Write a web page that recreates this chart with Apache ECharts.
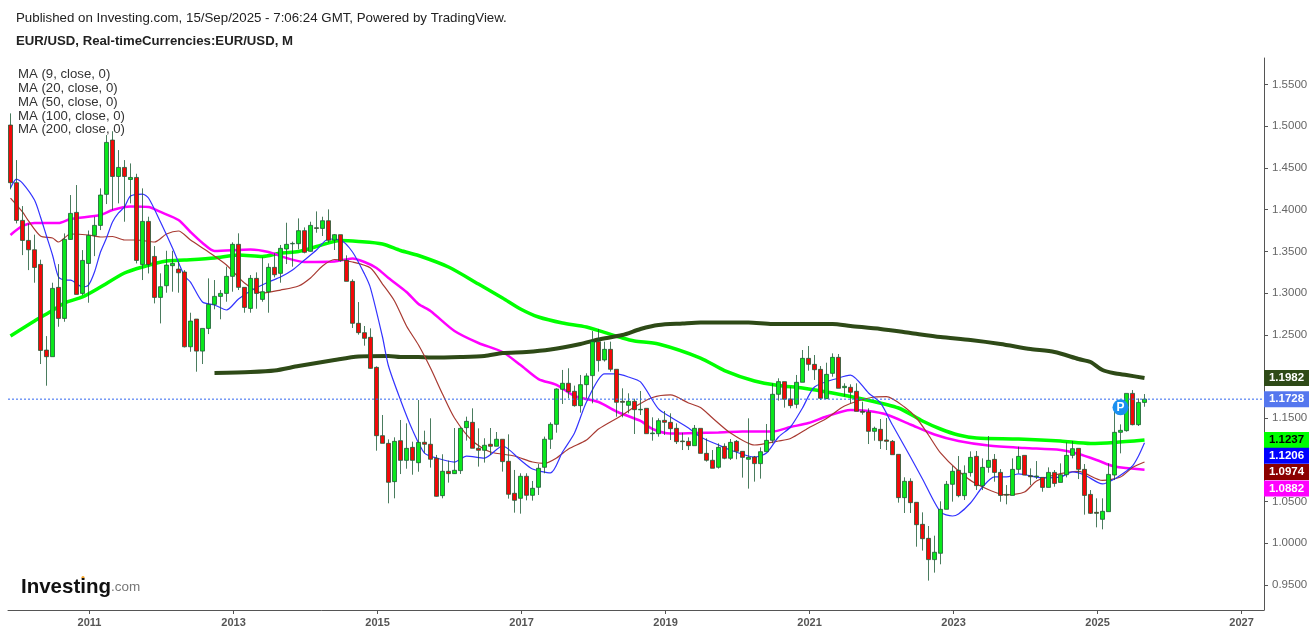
<!DOCTYPE html>
<html>
<head>
<meta charset="utf-8">
<title>EUR/USD</title>
<style>
  html, body { margin: 0; padding: 0; background: #fff; }
  #chart { width: 1316px; height: 634px; }
</style>
<script src="https://cdn.jsdelivr.net/npm/echarts@6/dist/echarts.min.js"></script>
</head>
<body>
<div id="chart"></div>
<script>
// monthly candles, index 0 = Dec 2009, index 189 = Sep 2025
var opens = [1.5014,1.4323,1.3871,1.3631,1.3519,1.3343,1.2316,1.2237,1.3068,1.2696,
  1.3643,1.3967,1.2996,1.3355,1.3691,1.3811,1.4183,1.4834,1.4398,1.4506,
  1.4362,1.4386,1.3343,1.3859,1.3439,1.2948,1.3088,1.3328,1.3287,1.3252,
  1.2356,1.2688,1.2304,1.2576,1.2864,1.2960,1.2996,1.3200,1.3584,1.3068,
  1.2816,1.3176,1.2924,1.3016,1.3308,1.3236,1.3528,1.3590,1.3592,1.3748,
  1.3500,1.3783,1.3775,1.3867,1.3636,1.3700,1.3392,1.3140,1.2637,1.2525,
  1.2469,1.2109,1.1290,1.1198,1.0739,1.1230,1.0994,1.1150,1.0966,1.1211,
  1.1187,1.1019,1.0571,1.0863,1.0835,1.0871,1.1386,1.1450,1.1139,1.1115,
  1.1187,1.1163,1.1247,1.0983,1.0599,1.0539,1.0803,1.0575,1.0671,1.0911,
  1.1247,1.1426,1.1846,1.1918,1.1822,1.1650,1.1902,1.2010,1.2417,1.2198,
  1.2325,1.2086,1.1702,1.1654,1.1702,1.1600,1.1618,1.1314,1.1314,1.1474,
  1.1450,1.1378,1.1226,1.1222,1.1170,1.1378,1.1078,1.0995,1.0911,1.1162,
  1.1019,1.1222,1.1102,1.1007,1.1034,1.0955,1.1098,1.1234,1.1786,1.1938,
  1.1730,1.1666,1.1930,1.2217,1.2145,1.2085,1.1734,1.2037,1.2229,1.1866,
  1.1870,1.1822,1.1582,1.1574,1.1342,1.1366,1.1238,1.1222,1.1066,1.0547,
  1.0743,1.0491,1.0227,1.0059,0.9804,0.9880,1.0407,1.0707,1.0875,1.0571,
  1.0847,1.1042,1.0690,1.0910,1.1006,1.0850,1.0586,1.0574,1.0886,1.1054,
  1.0810,1.0798,1.0790,1.0670,1.0850,1.0730,1.0822,1.1054,1.1138,1.0886,
  1.0586,1.0371,1.0287,1.0379,1.0818,1.1330,1.1350,1.1797,1.1422,1.1689];
var closes = [1.4323,1.3871,1.3631,1.3519,1.3307,1.2312,1.2237,1.3056,1.2696,1.3643,
  1.3955,1.2984,1.3391,1.3691,1.3811,1.4175,1.4806,1.4398,1.4506,1.4398,
  1.4386,1.3391,1.3859,1.3343,1.2948,1.3076,1.3335,1.3355,1.3243,1.2356,
  1.2664,1.2304,1.2576,1.2864,1.2960,1.2996,1.3200,1.3584,1.3068,1.2828,
  1.3176,1.2996,1.3016,1.3308,1.3220,1.3536,1.3584,1.3595,1.3748,1.3488,
  1.3811,1.3775,1.3867,1.3632,1.3700,1.3392,1.3140,1.2637,1.2525,1.2457,
  1.2097,1.1290,1.1198,1.0731,1.1222,1.0994,1.1138,1.0994,1.1210,1.1187,
  1.1007,1.0563,1.0863,1.0835,1.0875,1.1378,1.1462,1.1139,1.1115,1.1175,
  1.1163,1.1247,1.0979,1.0587,1.0515,1.0803,1.0575,1.0659,1.0899,1.1247,
  1.1426,1.1850,1.1918,1.1818,1.1650,1.1902,1.2006,1.2417,1.2190,1.2325,
  1.2086,1.1690,1.1690,1.1702,1.1602,1.1606,1.1314,1.1322,1.1470,1.1450,
  1.1374,1.1218,1.1218,1.1170,1.1378,1.1078,1.0995,1.0899,1.1150,1.1019,
  1.1210,1.1102,1.1030,1.1030,1.0955,1.1098,1.1234,1.1786,1.1938,1.1726,
  1.1650,1.1930,1.2217,1.2145,1.2081,1.1738,1.2025,1.2229,1.1858,1.1882,
  1.1810,1.1582,1.1570,1.1342,1.1378,1.1230,1.1222,1.1062,1.0547,1.0743,
  1.0487,1.0223,1.0055,0.9804,0.9892,1.0407,1.0707,1.0863,1.0571,1.0839,
  1.1030,1.0691,1.0910,1.0994,1.0850,1.0574,1.0578,1.0886,1.1042,1.0818,
  1.0798,1.0806,1.0670,1.0850,1.0718,1.0822,1.1054,1.1134,1.0886,1.0574,
  1.0359,1.0359,1.0383,1.0826,1.1330,1.1354,1.1797,1.1422,1.1689,1.1728];
var lows = [1.4243,1.3835,1.3455,1.3275,1.3124,1.2149,1.1889,1.2237,1.2596,1.2656,
  1.3640,1.2984,1.2976,1.2884,1.3443,1.3755,1.4067,1.3995,1.4075,1.3855,
  1.4075,1.3355,1.3156,1.3235,1.2876,1.2636,1.3004,1.3016,1.3004,1.2348,
  1.2296,1.2057,1.2149,1.2508,1.2805,1.2685,1.2896,1.3016,1.3036,1.2764,
  1.2764,1.2812,1.2896,1.2764,1.3188,1.3124,1.3348,1.3316,1.3524,1.3476,
  1.3496,1.3723,1.3684,1.3604,1.3516,1.3376,1.3140,1.2581,1.2501,1.2369,
  1.2093,1.1110,1.1198,1.0479,1.0539,1.0830,1.0894,1.0822,1.0858,1.1079,
  1.0907,1.0559,1.0539,1.0727,1.0839,1.0831,1.1231,1.1139,1.0919,1.0967,
  1.1059,1.1163,1.0859,1.0535,1.0367,1.0355,1.0515,1.0511,1.0579,1.0839,
  1.1131,1.1326,1.1670,1.1738,1.1638,1.1566,1.1738,1.1678,1.2058,1.2178,
  1.2058,1.1518,1.1510,1.1558,1.1310,1.1538,1.1314,1.1230,1.1278,1.1298,
  1.1238,1.1190,1.1118,1.1118,1.1170,1.1078,1.0979,1.0899,1.0895,1.1007,
  1.0999,1.1007,1.0787,1.0655,1.0739,1.0775,1.1098,1.1198,1.1710,1.1626,
  1.1618,1.1618,1.1930,1.2069,1.1958,1.1718,1.1734,1.1997,1.1858,1.1758,
  1.1678,1.1582,1.1542,1.1190,1.1230,1.1130,1.1118,1.1062,1.0487,1.0363,
  1.0363,0.9959,0.9912,0.9552,0.9648,0.9748,1.0407,1.0499,1.0551,1.0519,
  1.0799,1.0639,1.0638,1.0846,1.0738,1.0498,1.0467,1.0574,1.0838,1.0818,
  1.0698,1.0770,1.0618,1.0670,1.0678,1.0730,1.0790,1.1018,1.0770,1.0343,
  1.0351,1.0191,1.0167,1.0379,1.0758,1.1078,1.1338,1.1414,1.1406,1.1637];
var highs = [1.5154,1.4594,1.4043,1.3835,1.3700,1.3400,1.2484,1.3124,1.3347,1.3715,
  1.4175,1.4295,1.3515,1.3750,1.3915,1.4255,1.4894,1.4940,1.4714,1.4594,
  1.4554,1.4430,1.4255,1.3915,1.3563,1.3236,1.3507,1.3507,1.3375,1.3275,
  1.2764,1.2688,1.2576,1.3176,1.3156,1.3036,1.3316,1.3608,1.3716,1.3068,
  1.3216,1.3248,1.3428,1.3356,1.3476,1.3576,1.3843,1.3616,1.3895,1.3787,
  1.3855,1.3979,1.3915,1.4003,1.3708,1.3700,1.3452,1.3164,1.2892,1.2605,
  1.2577,1.2121,1.1538,1.1246,1.1270,1.1478,1.1438,1.1218,1.1718,1.1350,
  1.1498,1.1059,1.1067,1.0991,1.1382,1.1390,1.1518,1.1618,1.1378,1.1259,
  1.1382,1.1334,1.1247,1.1306,1.0879,1.0839,1.0839,1.0747,1.0951,1.1279,
  1.1450,1.1858,1.2078,1.2098,1.1890,1.2018,1.2038,1.2545,1.2569,1.2417,
  1.2417,1.2086,1.1858,1.1798,1.1733,1.1826,1.1618,1.1510,1.1498,1.1586,
  1.1558,1.1438,1.1326,1.1270,1.1418,1.1378,1.1258,1.1118,1.1198,1.1198,
  1.1250,1.1238,1.1102,1.1498,1.1047,1.1150,1.1430,1.1918,1.1978,1.1938,
  1.1878,1.2018,1.2317,1.2365,1.2257,1.2125,1.2165,1.2277,1.2269,1.1918,
  1.1906,1.1918,1.1698,1.1618,1.1398,1.1490,1.1502,1.1238,1.1066,1.0791,
  1.0779,1.0491,1.0371,1.0207,1.0091,1.0503,1.0747,1.0926,1.1046,1.0934,
  1.1102,1.1106,1.1018,1.1286,1.1070,1.0890,1.0698,1.1018,1.1158,1.1054,
  1.0898,1.0986,1.0790,1.0910,1.0878,1.0958,1.1210,1.1226,1.1138,1.0950,
  1.0638,1.0539,1.0539,1.0958,1.1597,1.1426,1.1797,1.1837,1.1737,1.1789];

// moving averages, month index + value
var ma9Months = [0,1,2,4,5,6,7,8,9,10,12,13,14,15,16,17,18,19,20,22,23,25,27,29,30,32,34,36,38,40,43,45,47,49,51,53,55,57,59,60,62,63,65,67,69,71,74,76,79,82,85,87,90,92,94,96,99,101,103,105,108,110,113,115,118,120,124,126,128,130,132,134,138,140,143,145,147,150,152,155,157,158,160,162,164,166,168,172,175,177,179,182,184,186,187,188,189];
var ma9 = [1.4259,1.4367,1.4319,1.4115,1.3912,1.3684,1.3456,1.3192,1.3156,1.3156,1.3072,1.3096,1.3252,1.3492,1.3660,1.3852,1.3960,1.4032,1.4163,1.4187,1.4139,1.3852,1.3540,1.3204,1.3132,1.2893,1.2857,1.2797,1.2929,1.3025,1.3132,1.3192,1.3276,1.3396,1.3516,1.3648,1.3636,1.3492,1.3228,1.3060,1.2473,1.2125,1.1718,1.1358,1.1082,1.1022,1.0974,1.1046,1.1022,1.1166,1.0998,1.0891,1.0843,1.1094,1.1322,1.1694,1.2030,1.2030,1.1993,1.1934,1.1610,1.1514,1.1382,1.1274,1.1178,1.1118,1.1034,1.1082,1.1274,1.1394,1.1622,1.1874,1.1982,1.2017,1.1802,1.1682,1.1418,1.1034,1.0771,1.0375,1.0327,1.0351,1.0483,1.0675,1.0795,1.0795,1.0831,1.0783,1.0795,1.0855,1.0819,1.0711,1.0771,1.0867,1.0927,1.1047,1.1206];
var ma20Months = [0,2,3,5,7,8,10,13,15,17,19,21,24,26,28,30,33,36,39,42,45,48,50,52,54,57,60,62,64,66,68,70,72,74,77,80,84,87,89,91,93,96,98,102,104,107,110,113,115,117,120,124,128,130,133,136,139,144,146,149,151,153,155,158,161,166,169,171,174,178,182,185,187,189];
var ma20 = [1.4139,1.3972,1.3864,1.3684,1.3660,1.3612,1.3708,1.3696,1.3672,1.3678,1.3636,1.3636,1.3612,1.3708,1.3744,1.3636,1.3492,1.3336,1.3120,1.3000,1.3036,1.3084,1.3180,1.3324,1.3402,1.3372,1.3300,1.3108,1.2905,1.2605,1.2377,1.2101,1.1790,1.1502,1.1226,1.1094,1.1046,1.0974,1.0957,1.1022,1.1130,1.1238,1.1370,1.1538,1.1634,1.1748,1.1778,1.1682,1.1628,1.1502,1.1322,1.1178,1.1226,1.1256,1.1382,1.1496,1.1646,1.1754,1.1757,1.1634,1.1502,1.1298,1.1083,1.0867,1.0711,1.0579,1.0615,1.0747,1.0819,1.0861,1.0753,1.0795,1.0909,1.0974];
var ma50Months = [0,2,4,8,10,15,17,20,23,25,28,30,32,34,40,43,46,49,54,57,59,61,63,66,68,70,74,78,82,85,88,91,94,98,101,105,107,110,114,118,122,127,130,133,136,140,143,146,150,154,158,163,169,175,178,181,184,189];
var ma50 = [1.3696,1.3804,1.3840,1.3840,1.3888,1.3936,1.3996,1.4037,1.4031,1.3972,1.3876,1.3732,1.3600,1.3504,1.3522,1.3492,1.3420,1.3372,1.3378,1.3414,1.3372,1.3300,1.3180,1.3012,1.2869,1.2785,1.2545,1.2401,1.2293,1.2137,1.1969,1.1898,1.1766,1.1694,1.1580,1.1466,1.1370,1.1316,1.1322,1.1328,1.1340,1.1340,1.1394,1.1442,1.1520,1.1598,1.1586,1.1544,1.1424,1.1304,1.1226,1.1172,1.1142,1.1118,1.1070,1.0999,1.0920,1.0882];
var ma100Months = [0,4,7,9,12,15,19,22,26,29,34,38,42,45,48,51,55,58,62,65,68,73,78,82,85,88,92,96,102,104,108,115,119,124,128,132,137,142,148,152,155,158,161,168,175,180,184,189];
var ma100 = [1.2485,1.2665,1.2791,1.2881,1.2953,1.3072,1.3240,1.3312,1.3384,1.3396,1.3420,1.3456,1.3438,1.3480,1.3498,1.3558,1.3630,1.3618,1.3588,1.3510,1.3450,1.3312,1.3108,1.2941,1.2809,1.2713,1.2641,1.2593,1.2461,1.2425,1.2389,1.2221,1.2071,1.1946,1.1892,1.1862,1.1802,1.1730,1.1622,1.1466,1.1370,1.1298,1.1262,1.1250,1.1226,1.1196,1.1208,1.1237];
var ma200Months = [34,40,44,48,54,58,63,65,68,70,75,79,82,86,90,95,98,102,105,108,112,115,118,123,127,132,137,140,145,150,155,160,165,170,174,178,180,182,184,186,189];
var ma200 = [1.2041,1.2053,1.2071,1.2125,1.2197,1.2239,1.2245,1.2233,1.2233,1.2227,1.2233,1.2245,1.2281,1.2293,1.2323,1.2389,1.2443,1.2497,1.2569,1.2617,1.2635,1.2647,1.2647,1.2647,1.2629,1.2629,1.2629,1.2605,1.2569,1.2521,1.2473,1.2437,1.2389,1.2329,1.2293,1.2209,1.2173,1.2077,1.2038,1.2017,1.1982];

var maNames = ["MA (9, close, 0)", "MA (20, close, 0)", "MA (50, close, 0)", "MA (100, close, 0)", "MA (200, close, 0)"];
var yTicks = [0.95, 1.0, 1.05, 1.15, 1.25, 1.3, 1.35, 1.4, 1.45, 1.5, 1.55];
var yearLabels = ["2011", "2013", "2015", "2017", "2019", "2021", "2023", "2025", "2027"];
var yearTicks = [13.17, 37.17, 61.17, 85.17, 109.17, 133.17, 157.17, 181.17, 205.17];
var lastPrice = 1.1728;

var xMin = -0.4167;
var xMax = 208.9167;

function zip(a, b) {
  return a.map(function (v, i) { return [v, b[i]]; });
}

// coloured price tag on the right hand scale
function tagItem(value, color, textColor, dy) {
  return {
    coord: [xMax, value],
    symbol: "rect",
    symbolSize: [45, 16],
    symbolOffset: [22.5, dy],
    itemStyle: { color: color },
    label: {
      show: true,
      position: "inside",
      formatter: value.toFixed(4),
      color: textColor,
      fontFamily: "Liberation Sans",
      fontSize: 11.5,
      fontWeight: "bold"
    }
  };
}

function maLine(name, months, values, color, width, tagColor, textColor, dy) {
  return {
    name: name,
    type: "line",
    z: 1,
    data: zip(months, values),
    showSymbol: false,
    smooth: 0.25,
    lineStyle: { color: color, width: width },
    markPoint: { silent: true, z: 6, data: [tagItem(values[values.length - 1], tagColor, textColor, dy)] }
  };
}

var candles = opens.map(function (o, i) {
  return [i, o, closes[i], lows[i], highs[i]];
});

var titles = [
  { text: "Published on Investing.com, 15/Sep/2025 - 7:06:24 GMT, Powered by TradingView.", left: 16, top: 12, padding: 0,
    textStyle: { fontFamily: "Liberation Sans", fontSize: 13.3, fontWeight: "normal", color: "#222" } },
  { text: "EUR/USD, Real-timeCurrencies:EUR/USD, M", left: 16, top: 35, padding: 0,
    textStyle: { fontFamily: "Liberation Sans", fontSize: 13.2, fontWeight: "bold", color: "#222" } },
  { text: "{a|Investing}{b|.com}", left: 21, top: 577, padding: 0,
    textStyle: { rich: {
      a: { fontFamily: "Liberation Sans", fontSize: 20.5, fontWeight: "bold", color: "#111" },
      b: { fontFamily: "Liberation Sans", fontSize: 13.5, fontWeight: "normal", color: "#777" }
    } } }
];
maNames.forEach(function (name, i) {
  titles.push({ text: name, left: 18, top: 68 + i * 13.8, padding: 0,
    textStyle: { fontFamily: "Liberation Sans", fontSize: 13.2, fontWeight: "normal", color: "#333" } });
});

var myChart = echarts.init(document.getElementById("chart"));
var option = {
  animation: false,
  backgroundColor: "#fff",
  title: titles,
  grid: { left: 8, right: 52, top: 58, bottom: 24 },
  xAxis: {
    type: "value",
    min: xMin,
    max: xMax,
    splitLine: { show: false },
    axisLine: { show: true, onZero: false, lineStyle: { color: "#555" } },
    axisTick: { show: true, length: 4, customValues: yearTicks, lineStyle: { color: "#555" } },
    axisLabel: {
      customValues: yearTicks,
      margin: 7,
      color: "#555",
      fontFamily: "Liberation Sans",
      fontSize: 11,
      fontWeight: "bold",
      formatter: function (v) {
        return yearLabels[Math.round((v - yearTicks[0]) / 24)];
      }
    }
  },
  yAxis: {
    type: "value",
    position: "right",
    min: 0.92,
    max: 1.5818,
    splitLine: { show: false },
    axisLine: { show: true, onZero: false, lineStyle: { color: "#555" } },
    axisTick: { show: true, length: 4, customValues: yTicks, lineStyle: { color: "#555" } },
    axisLabel: {
      customValues: yTicks,
      margin: 8,
      padding: [2, 0, 0, 0],
      color: "#666",
      fontFamily: "Liberation Sans",
      fontSize: 11.5,
      formatter: function (v) { return v.toFixed(4); }
    }
  },
  series: [
    maLine("MA 100", ma100Months, ma100, "#00ff00", 3.5, "#00ff00", "#000", 0),
    maLine("MA 50", ma50Months, ma50, "#ff00ff", 2.5, "#ff00ff", "#fff", 18.7),
    maLine("MA 200", ma200Months, ma200, "#2e4a17", 4, "#2e4a17", "#fff", 0),
    maLine("MA 20", ma20Months, ma20, "#a83a32", 1.2, "#8b0000", "#fff", 10),
    maLine("MA 9", ma9Months, ma9, "#3333ff", 1.2, "#0000ff", "#fff", 13),
    {
      name: "EUR/USD",
      type: "candlestick",
      z: 2,
      barWidth: 5,
      encode: { x: 0, y: [1, 2, 3, 4] },
      data: candles,
      itemStyle: {
        color: "#0ae81c",
        color0: "#f20808",
        borderColor: "#1c5a35",
        borderColor0: "#1c5a35",
        borderWidth: 0.8
      },
      markPoint: {
        silent: true,
        z: 6,
        data: [
          {
            coord: [185, 1.163],
            symbol: "circle",
            symbolSize: 16,
            itemStyle: { color: "#1a90f0" },
            label: { show: true, position: "inside", formatter: "P", color: "#fff", fontFamily: "Liberation Sans", fontSize: 12, fontWeight: "bold" }
          },
          tagItem(lastPrice, "#5577ee", "#fff", 0)
        ]
      }
    },
    // last price line
    {
      name: "Last",
      type: "line",
      z: 3,
      data: [[xMin, lastPrice], [xMax, lastPrice]],
      showSymbol: false,
      lineStyle: { color: "#2f66f0", type: [2, 2], width: 1 }
    }
  ],
  graphic: [
    // orange dot of the logo
    { type: "circle", shape: { cx: 83, cy: 577.5, r: 1.6 }, style: { fill: "#f7a325" } }
  ]
};
myChart.setOption(option);
window.addEventListener("resize", function () {
  myChart.resize();
});
</script>
</body>
</html>
